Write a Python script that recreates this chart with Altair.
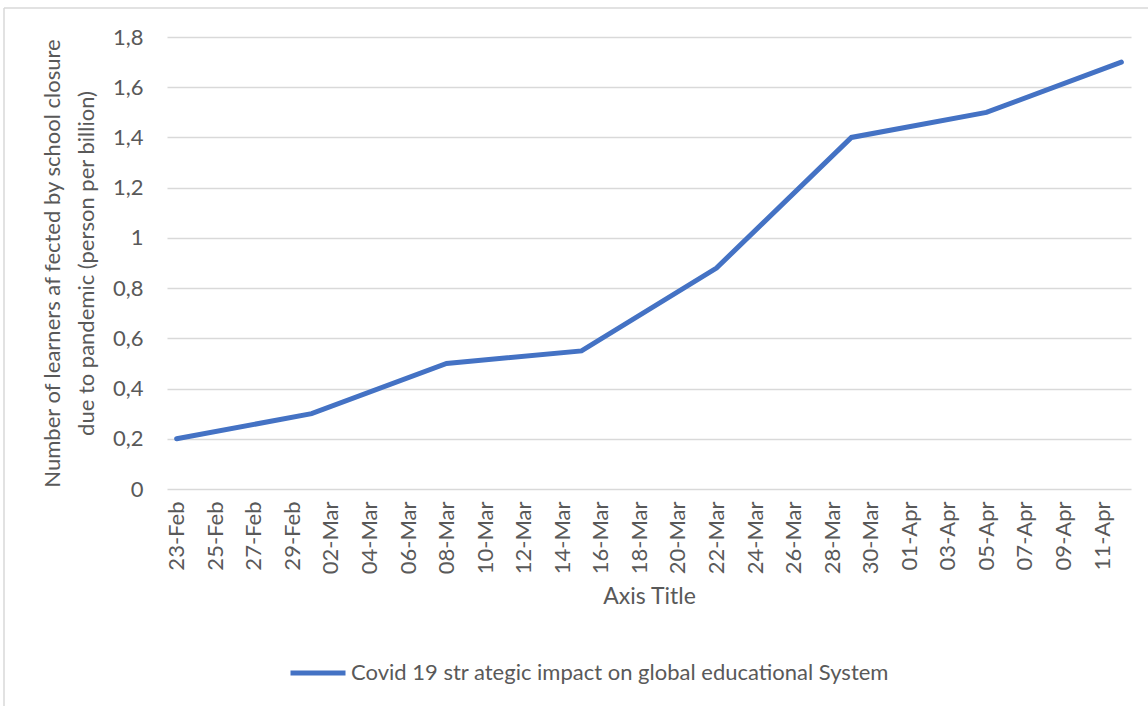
import altair as alt
import pandas as pd

series_name = "Covid 19 str ategic impact on global educational System"
dates = ["2020-02-23", "2020-03-01", "2020-03-08", "2020-03-15",
         "2020-03-22", "2020-03-29", "2020-04-05", "2020-04-12"]
values = [0.2, 0.3, 0.5, 0.55, 0.88, 1.4, 1.5, 1.7]

tick_dates = ["2020-02-23", "2020-02-25", "2020-02-27", "2020-02-29",
              "2020-03-02", "2020-03-04", "2020-03-06", "2020-03-08",
              "2020-03-10", "2020-03-12", "2020-03-14", "2020-03-16",
              "2020-03-18", "2020-03-20", "2020-03-22", "2020-03-24",
              "2020-03-26", "2020-03-28", "2020-03-30", "2020-04-01",
              "2020-04-03", "2020-04-05", "2020-04-07", "2020-04-09",
              "2020-04-11"]
y_ticks = [0, 0.2, 0.4, 0.6, 0.8, 1, 1.2, 1.4, 1.6, 1.8]


def dt(s, hours=0):
    y, m, d = (int(p) for p in s.split("-"))
    return alt.DateTime(year=y, month=m, date=d, hours=hours, utc=True)


df = pd.DataFrame({"date": dates, "value": values, "series": series_name})

FONT = "Lato"
GREY = "#595959"
LINE = "#4472C4"

x_enc = alt.X(
    "date:T",
    scale=alt.Scale(type="utc", domain=[dt("2020-02-22", 12), dt("2020-04-12", 12)]),
    axis=alt.Axis(
        values=[dt(s) for s in tick_dates],
        format="%d-%b",
        labelAngle=270,
        labelFontSize=22,
        labelColor=GREY,
        labelFont=FONT,
        labelPadding=12,
        labelOverlap=False,
        ticks=False,
        domain=False,
        grid=False,
        title="Axis Title",
        titleFont=FONT,
        titleFontSize=23,
        titleFontWeight="normal",
        titleColor=GREY,
        titlePadding=12,
    ),
)

y_enc = alt.Y(
    "value:Q",
    scale=alt.Scale(domain=[0, 1.8], nice=False, zero=True),
    axis=alt.Axis(
        values=y_ticks,
        labelExpr="replace(format(datum.value, '~g'), '.', ',')",
        labelFontSize=22,
        labelColor=GREY,
        labelFont=FONT,
        labelPadding=24,
        ticks=False,
        domain=False,
        grid=True,
        gridColor="#D9D9D9",
        gridWidth=1.3,
        title=["Number of learners af fected by school closure",
               "due to pandemic (person per billion)"],
        titleFont=FONT,
        titleFontSize=22,
        titleLineHeight=34,
        titleFontWeight="normal",
        titleColor=GREY,
        titlePadding=14,
    ),
)

line = alt.Chart(df).mark_line(strokeWidth=5, strokeCap="round", strokeJoin="miter").encode(
    x=x_enc,
    y=y_enc,
    color=alt.Color(
        "series:N",
        scale=alt.Scale(domain=[series_name], range=[LINE]),
        legend=alt.Legend(
            orient="none",
            legendX=121,
            legendY=606,
            title=None,
            symbolType="stroke",
            symbolSize=3025,
            symbolStrokeWidth=5,
            labelFont=FONT,
            labelFontSize=22,
            labelColor=GREY,
            labelOffset=3,
            padding=0,
            labelLimit=800,
        ),
    ),
)

frame_df = pd.DataFrame({"k": [0]})
frame_left = alt.Chart(frame_df).mark_rule(color="#D9D9D9", strokeWidth=1.5).encode(
    x=alt.value(-163), y=alt.value(-29), y2=alt.value(669)
)
frame_top = alt.Chart(frame_df).mark_rule(color="#D9D9D9", strokeWidth=1.5).encode(
    x=alt.value(-163), x2=alt.value(981), y=alt.value(-29)
)

chart = alt.layer(frame_left, frame_top, line).properties(
    width=964,
    height=452,
    autosize=alt.AutoSizeParams(type="none"),
    padding={"left": 167, "top": 37, "right": 17, "bottom": 217},
    background="white",
).configure_view(stroke=None)

chart.save("out.html", embed_options={"renderer": "svg", "actions": False})
